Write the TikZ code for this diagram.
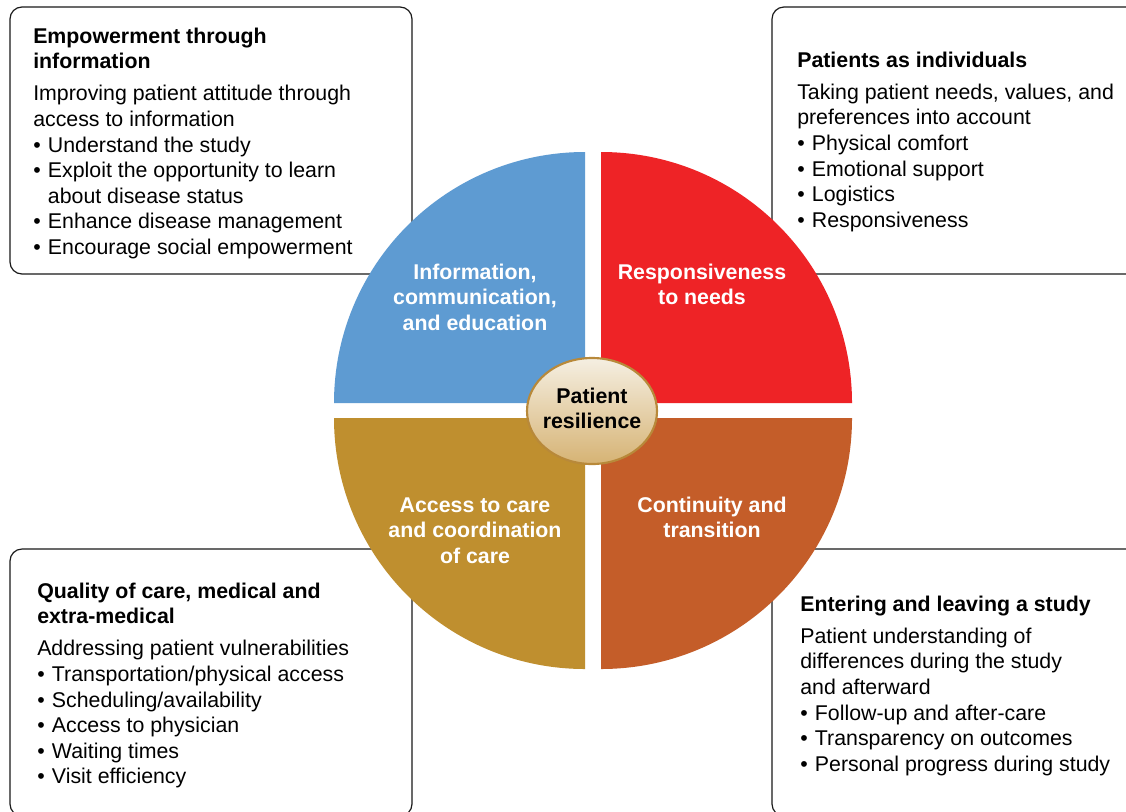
\documentclass[tikz,border=0pt]{standalone}
\usepackage{fontspec}
\setmainfont{Liberation Sans}
\usetikzlibrary{shapes.geometric}
\definecolor{qblue}{HTML}{5E9BD2}
\definecolor{qred}{HTML}{EE2326}
\definecolor{qgold}{HTML}{BF8F2F}
\definecolor{qorange}{HTML}{C45D29}
\definecolor{ctop}{HTML}{F5EFE2}
\definecolor{cbot}{HTML}{D6B374}
\definecolor{cborder}{HTML}{B8893A}
\definecolor{boxline}{HTML}{1A1A1A}
\newcommand\blk[2]{\begin{minipage}[t]{#1}\fontsize{16}{19.2}\selectfont\raggedright #2\end{minipage}}
\newcommand\ctr[2]{\begin{minipage}[t]{#1}\fontsize{16}{19.3}\selectfont\centering\bfseries #2\end{minipage}}
\newcommand\itm[1]{\par\hangindent=11pt\hangafter=1\noindent\makebox[11pt][l]{\textbullet}#1}
\newcommand\hd[1]{\textbf{#1}\par\vspace{5pt}\noindent}
\tikzset{
  infobox/.style={draw=boxline, line width=0.9pt, rounded corners=9pt, fill=white},
  txtnode/.style={inner sep=0pt, anchor=base west},
  qlabel/.style={inner sep=0pt, anchor=base, text=white},
}
\begin{document}
\begin{tikzpicture}[x=0.75pt, y=-0.75pt]
\useasboundingbox (0,0) rectangle (1126,811);
\clip (0,0) rectangle (1126,811);
\fill[white] (0,0) rectangle (1126,811);
% boxes
\draw[infobox] (10,7) rectangle (412,274);
\draw[infobox] (772,7) rectangle (1174,274);
\draw[infobox] (10,549) rectangle (412,816);
\draw[infobox] (772,549) rectangle (1174,816);
% quadrants
\fill[qblue] (585,403) -- (334,403) arc[start angle=180, end angle=90, radius=188.25pt] -- cycle;
\fill[qred] (601,403) -- (852,403) arc[start angle=0, end angle=90, radius=188.25pt] -- cycle;
\fill[qgold] (585,418) -- (334,418) arc[start angle=180, end angle=270, radius=188.25pt] -- cycle;
\fill[qorange] (601,418) -- (852,418) arc[start angle=0, end angle=-90, radius=188.25pt] -- cycle;
% center ellipse
\shade[top color=ctop, bottom color=cbot] (592,411) ellipse[x radius=48.75pt, y radius=39.75pt];
\draw[cborder, line width=1.6pt] (592,411) ellipse[x radius=48.75pt, y radius=39.75pt];
\node[inner sep=0pt, anchor=base] (center) at (592,403) {\ctr{120pt}{Patient\\resilience}};
% quadrant labels
\node[qlabel] (lblue) at (475,279) {\ctr{160pt}{Information,\\communication,\\and education}};
\node[qlabel] (lred) at (702,279) {\ctr{160pt}{Responsiveness\\to needs}};
\node[qlabel] (lgold) at (475,512) {\ctr{160pt}{Access to care\\and coordination\\of care}};
\node[qlabel] (lorange) at (712,512) {\ctr{160pt}{Continuity and\\transition}};
% box texts
\node[txtnode] (tl) at (33,43) {\blk{290pt}{\hd{Empowerment through\\information}Improving patient attitude through\\access to information
\itm{Understand the study}
\itm{Exploit the opportunity to learn\newline about disease status}
\itm{Enhance disease management}
\itm{Encourage social empowerment}}};
\node[txtnode] (tr) at (797,67) {\blk{260pt}{\hd{Patients as individuals}Taking patient needs, values, and\\preferences into account
\itm{Physical comfort}
\itm{Emotional support}
\itm{Logistics}
\itm{Responsiveness}}};
\node[txtnode] (bl) at (37,598) {\blk{290pt}{\hd{Quality of care, medical and\\extra-medical}Addressing patient vulnerabilities
\itm{Transportation/physical access}
\itm{Scheduling/availability}
\itm{Access to physician}
\itm{Waiting times}
\itm{Visit efficiency}}};
\node[txtnode] (br) at (800,611) {\blk{260pt}{\hd{Entering and leaving a study}Patient understanding of\\differences during the study\\and afterward
\itm{Follow-up and after-care}
\itm{Transparency on outcomes}
\itm{Personal progress during study}}};
\end{tikzpicture}
\end{document}
